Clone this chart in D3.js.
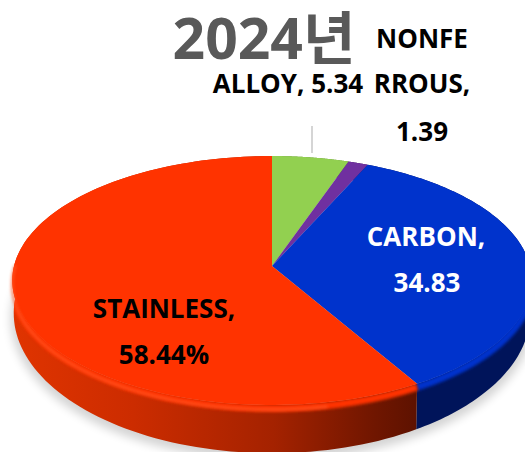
<!DOCTYPE html>
<html><head><meta charset="utf-8">
<script src="https://cdn.jsdelivr.net/npm/d3@7"></script>
<style>html,body{margin:0;padding:0;background:#fff;overflow:hidden}svg{display:block}
text{font-family:"Open Sans","Noto Sans CJK KR",sans-serif;font-weight:700}</style>
</head><body><div id="c"></div>
<script>
const categories=["ALLOY","NONFERROUS","CARBON","STAINLESS"];
const values=[5.34,1.39,34.83,58.44];
const colors=["#92d050","#7030a0","#0033cc","#ff3300"];
const sideColors=["#5f8a30","#3f1a60","#00145a","#b82800"];
const titleText="2024년";
const labelLines=[
 {t:"NONFE",x:422,y:48,c:"#000"},
 {t:"ALLOY, 5.34",x:288,y:93,c:"#000"},
 {t:"RROUS,",x:422,y:93,c:"#000"},
 {t:"1.39",x:422,y:141,c:"#000"},
 {t:"CARBON,",x:426,y:246,c:"#fff"},
 {t:"34.83",x:427,y:292,c:"#fff"},
 {t:"STAINLESS,",x:164,y:318,c:"#000"},
 {t:"58.44%",x:164,y:364,c:"#000"}
];
const W=525,H=452,cx=272,cy=266,rx=258,ry=122.8,k=0.1165;
const cyB=297,ryB=138,rxB=256.5;
const svg=d3.select("#c").append("svg").attr("width",W).attr("height",H);
const defs=svg.append("defs");
const blur=(id,s)=>defs.append("filter").attr("id",id).attr("x","-20%").attr("y","-20%").attr("width","140%").attr("height","140%")
  .append("feGaussianBlur").attr("stdDeviation",s);
blur("sh",5);blur("b1",2);blur("b2",1.4);

// perspective projection of a disc point, angle clockwise from 12 o'clock
function P(a,r=1,z=0){
  const u=r*Math.sin(a),v=-r*Math.cos(a),d=1-k*v;
  return [cx+rx*u/d,cy+(ry*v+z)/d];
}
function B(a,r=1,z=0){
  const u=r*Math.sin(a),v=-r*Math.cos(a),d=1-k*v;
  return [cx+rxB*u/d,cyB+z+ryB*v/d];
}
const samples=(a0,a1,f)=>d3.range(0,121).map(i=>f(a0+(a1-a0)*i/120));
const line=d3.line();
const arcs=d3.pie().sort(null).value(d=>d)(values);
const TAU=2*Math.PI;

// shadow
svg.append("path").attr("d",line(samples(0,TAU,a=>B(a,1.012,5)))+"Z")
  .attr("fill","#000").attr("opacity",0.17).attr("filter","url(#sh)");

// gradient for stainless side
const g=defs.append("linearGradient").attr("id","redSide").attr("gradientUnits","userSpaceOnUse")
  .attr("x1",12).attr("x2",415).attr("y1",0).attr("y2",0);
[[0,"#e03400"],[0.3,"#cc2c00"],[0.65,"#a42200"],[0.9,"#701600"],[1,"#5e1200"]].forEach(s=>g.append("stop").attr("offset",s[0]).attr("stop-color",s[1]));

// side walls
arcs.forEach((d,i)=>{
  const top=samples(d.startAngle,d.endAngle,a=>P(a));
  const bot=samples(d.endAngle,d.startAngle,a=>B(a));
  svg.append("path").attr("d",line(top.concat(bot))+"Z")
    .attr("fill",i===3?"url(#redSide)":sideColors[i]);
});

// soft transition from face to wall, kept inside the wall outline
const clipAll=defs.append("clipPath").attr("id","allClip");
clipAll.append("path").attr("d",line(samples(0,TAU,a=>B(a)))+"Z");
const soft=svg.append("g").attr("clip-path","url(#allClip)");
arcs.forEach((d,i)=>{
  if(i>=2) soft.append("path").attr("d",line(samples(d.startAngle,d.endAngle,a=>P(a,1,3))))
    .attr("fill","none").attr("stroke",colors[i]).attr("stroke-width",7).attr("filter","url(#b2)");
});

// top face
arcs.forEach((d,i)=>{
  svg.append("path").attr("d",line([P(0,0)].concat(samples(d.startAngle,d.endAngle,a=>P(a))))+"Z")
    .attr("fill",colors[i]);
});
// rim highlight on the stainless slice
svg.append("path").attr("d",line(samples(2.95,4.75,a=>P(a,1,4))))
  .attr("fill","none").attr("stroke","#ff5a28").attr("stroke-width",2.5).attr("opacity",0.75).attr("filter","url(#b2)");

// leader line
svg.append("line").attr("x1",312).attr("x2",312).attr("y1",126).attr("y2",153)
  .attr("stroke","#bfbfbf").attr("stroke-width",1.3);

// title and labels
svg.append("text").attr("x",264).attr("y",59).attr("text-anchor","middle")
  .attr("font-size",57).attr("fill","#595959").text(titleText);
svg.selectAll("text.l").data(labelLines).join("text").attr("class","l")
  .attr("x",d=>d.x).attr("y",d=>d.y).attr("text-anchor","middle")
  .attr("font-size",26).attr("fill",d=>d.c).text(d=>d.t);
</script></body></html>
